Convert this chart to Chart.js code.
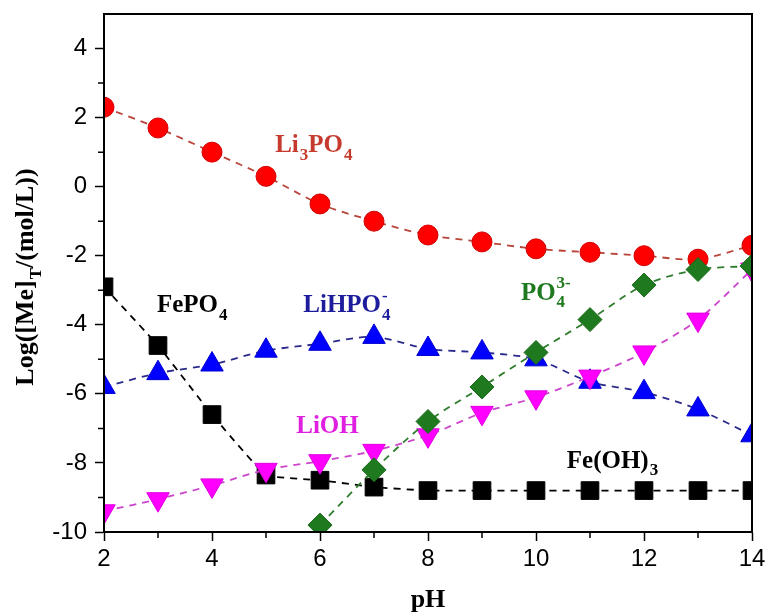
<!DOCTYPE html>
<html>
<head>
<meta charset="utf-8">
<script src="https://cdn.jsdelivr.net/npm/chart.js@4"></script>
<style>
  body { margin: 0; background: #fff; }
  canvas { display: block; }
</style>
</head>
<body>
<canvas id="speciesChart" width="773" height="615"></canvas>
<script>
// values
const pHValues = [2, 3, 4, 5, 6, 7, 8, 9, 10, 11, 12, 13, 14];
const li3po4 = [2.3, 1.7, 1.0, 0.3, -0.5, -1.0, -1.4, -1.6, -1.8, -1.9, -2.0, -2.1, -1.7];
const fepo4 = [-2.9, -4.6, -6.6, -8.35, -8.5, -8.7, -8.8, -8.8, -8.8, -8.8, -8.8, -8.8, -8.8];
const lihpo4 = [-5.8, -5.4, -5.15, -4.75, -4.55, -4.35, -4.7, -4.8, -5.0, -5.65, -5.95, -6.45, -7.2];
const po4 = [null, null, null, null, -9.8, -8.2, -6.8, -5.8, -4.8, -3.85, -2.85, -2.4, -2.3];
const lioh = [-9.4, -9.05, -8.65, -8.2, -7.95, -7.65, -7.2, -6.55, -6.1, -5.5, -4.8, -3.85, -2.4];

const xTicks = [2, 4, 6, 8, 10, 12, 14];
const yTicks = [-10, -8, -6, -4, -2, 0, 2, 4];

// species labels, anchored in data units (pH, log value)
const speciesLabels = [
  { parts: [{ t: "Li" }, { sub: "3" }, { t: "PO" }, { sub: "4" }], x: 5.17, y: 0.99, color: "#c63b2e" },
  { parts: [{ t: "FePO" }, { sub: "4" }], x: 2.98, y: -3.64, color: "#000" },
  { parts: [{ t: "LiHPO" }, { sub: "4", sup: "-" }], x: 5.69, y: -3.64, color: "#1c1c9c" },
  { parts: [{ t: "PO" }, { sub: "4", sup: "3-" }], x: 9.72, y: -3.27, color: "#1f7a1f" },
  { parts: [{ t: "LiOH" }], x: 5.56, y: -7.14, color: "#e020e0" },
  { parts: [{ t: "Fe(OH)" }, { sub: "3" }], x: 10.57, y: -8.14, color: "#000" },
];

const serif = "'Liberation Serif', 'Times New Roman', serif";
const sans = "'Liberation Sans', Arial, sans-serif";

function toPoints(values) {
  return pHValues.map((p, i) => ({ x: p, y: values[i] }));
}

function makeSet(label, values, opts) {
  return Object.assign({
    label: label,
    data: toPoints(values),
    borderWidth: 1.8,
    borderDash: [7, 6],
    tension: 0.3,
    clip: 0,
    spanGaps: false,
    pointBorderWidth: 1,
  }, opts);
}

// draws text made of normal / subscript / superscript pieces
function drawRich(ctx, parts, x, y, size, color) {
  ctx.save();
  ctx.fillStyle = color;
  ctx.textBaseline = "alphabetic";
  ctx.textAlign = "left";
  let cx = x;
  const small = Math.round(size * 0.66);
  parts.forEach((p) => {
    if (p.t) {
      ctx.font = "bold " + size + "px " + serif;
      ctx.fillText(p.t, cx, y);
      cx += ctx.measureText(p.t).width;
    } else {
      ctx.font = "bold " + small + "px " + serif;
      let w = 0;
      if (p.sub) {
        ctx.fillText(p.sub, cx + 1, y + size * 0.3);
        w = ctx.measureText(p.sub).width;
      }
      if (p.sup) {
        ctx.fillText(p.sup, cx + 1, y - size * 0.45);
        w = Math.max(w, ctx.measureText(p.sup).width);
      }
      cx += w + 1;
    }
  });
  ctx.restore();
  return cx - x;
}

const decorPlugin = {
  id: "decor",
  afterDraw(chart) {
    const ctx = chart.ctx;
    const area = chart.chartArea;
    const xs = chart.scales.x;
    const ys = chart.scales.y;

    // frame
    ctx.save();
    ctx.strokeStyle = "#000";
    ctx.lineWidth = 2;
    ctx.strokeRect(area.left, area.top, area.right - area.left, area.bottom - area.top);

    // minor ticks
    ctx.lineWidth = 1.5;
    ctx.beginPath();
    for (let v = 3; v < 14; v += 2) {
      const px = xs.getPixelForValue(v);
      ctx.moveTo(px, area.bottom);
      ctx.lineTo(px, area.bottom + 6);
    }
    for (let v = -9; v < 5; v += 2) {
      const py = ys.getPixelForValue(v);
      ctx.moveTo(area.left, py);
      ctx.lineTo(area.left - 6, py);
    }
    ctx.stroke();
    ctx.restore();

    // species labels
    speciesLabels.forEach((l) => {
      drawRich(ctx, l.parts, xs.getPixelForValue(l.x), ys.getPixelForValue(l.y), 25, l.color);
    });

    // axis titles
    ctx.save();
    ctx.fillStyle = "#000";
    ctx.font = "bold 26px " + serif;
    ctx.textAlign = "center";
    ctx.textBaseline = "alphabetic";
    ctx.fillText("pH", (area.left + area.right) / 2, 607);
    ctx.restore();

    ctx.save();
    const yParts = [{ t: "Log([Me]" }, { sub: "T" }, { t: "/(mol/L))" }];
    ctx.font = "bold 26px " + serif;
    // measure first so the title can be centred
    ctx.translate(-1000, -1000);
    const w = drawRich(ctx, yParts, 0, 0, 26, "rgba(0,0,0,0)");
    ctx.setTransform(1, 0, 0, 1, 0, 0);
    ctx.translate(33, (area.top + area.bottom) / 2 + 4);
    ctx.rotate(-Math.PI / 2);
    drawRich(ctx, yParts, -w / 2, 0, 26, "#000");
    ctx.restore();
  },
};

const ctx = document.getElementById("speciesChart").getContext("2d");
new Chart(ctx, {
  type: "line",
  data: {
    datasets: [
      makeSet("PO4 3-", po4, {
        borderColor: "#2e7d2e",
        pointStyle: "rectRot",
        pointRadius: 12,
        pointBackgroundColor: "#1f7a1f",
        pointBorderColor: "#1a6a1a",
        order: 1,
      }),
      makeSet("Li3PO4", li3po4, {
        borderColor: "#b8443a",
        pointStyle: "circle",
        pointRadius: 10,
        pointBackgroundColor: "#ff0000",
        pointBorderColor: "#d40000",
        order: 2,
      }),
      makeSet("LiOH", lioh, {
        borderColor: "#cc44cc",
        pointStyle: "triangle",
        rotation: 180,
        pointRadius: 13,
        pointBackgroundColor: "#ff00ff",
        pointBorderColor: "#e000e0",
        order: 3,
      }),
      makeSet("LiHPO4-", lihpo4, {
        borderColor: "#2a2a8c",
        pointStyle: "triangle",
        pointRadius: 13,
        pointBackgroundColor: "#0000ff",
        pointBorderColor: "#0000d0",
        order: 4,
      }),
      makeSet("FePO4", fepo4, {
        borderColor: "#000",
        pointStyle: "rect",
        pointRadius: 12.5,
        pointBackgroundColor: "#000",
        pointBorderColor: "#000",
        tension: 0.1,
        order: 5,
      }),
    ],
  },
  options: {
    responsive: false,
    devicePixelRatio: 1,
    animation: false,
    layout: { padding: { top: 9, right: 21, left: 0, bottom: 0 } },
    plugins: {
      legend: { display: false },
      tooltip: { enabled: false },
    },
    scales: {
      x: {
        type: "linear",
        min: 2,
        max: 14,
        afterFit: (scale) => {
          scale.height = 83;
          scale.paddingLeft = 0;
          scale.paddingRight = 0;
        },
        afterBuildTicks: (scale) => { scale.ticks = xTicks.map((v) => ({ value: v })); },
        ticks: {
          color: "#000",
          font: { family: sans, size: 24 },
          padding: 4,
          maxRotation: 0,
        },
        grid: {
          drawOnChartArea: false,
          drawTicks: true,
          tickLength: 9,
          tickWidth: 1.5,
          tickColor: "#000",
        },
        border: { display: true, color: "#000", width: 2 },
      },
      y: {
        type: "linear",
        min: -10,
        max: 5,
        afterFit: (scale) => {
          scale.width = 104;
          scale.paddingTop = 0;
          scale.paddingBottom = 0;
        },
        afterBuildTicks: (scale) => { scale.ticks = yTicks.map((v) => ({ value: v })); },
        ticks: {
          color: "#000",
          // small line height keeps the top label from pushing the plot down
          font: { family: sans, size: 24, lineHeight: 0.5 },
          padding: 8,
        },
        grid: {
          drawOnChartArea: false,
          drawTicks: true,
          tickLength: 9,
          tickWidth: 1.5,
          tickColor: "#000",
        },
        border: { display: true, color: "#000", width: 2 },
      },
    },
  },
  plugins: [decorPlugin],
});
</script>
</body>
</html>
